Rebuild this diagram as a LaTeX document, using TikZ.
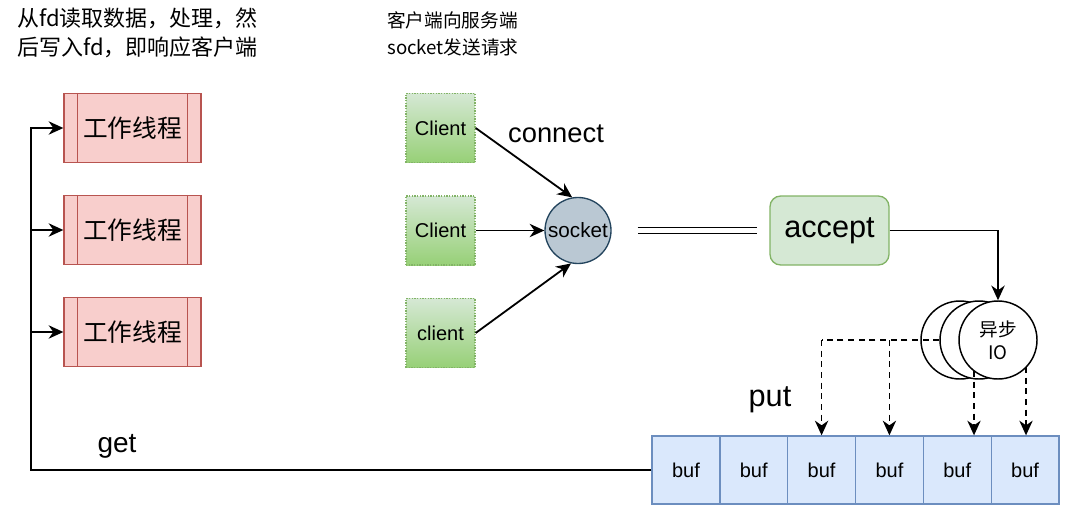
\documentclass[tikz,border=0pt]{standalone}
\usepackage{fontspec}
\setmainfont{Liberation Sans}
\newfontfamily\cjk{Noto Sans CJK SC}
\usetikzlibrary{arrows.meta,calc}
\definecolor{wfill}{HTML}{F8CECC}
\definecolor{wdraw}{HTML}{B85450}
\definecolor{gtop}{HTML}{D5E8D4}
\definecolor{gbot}{HTML}{97D077}
\definecolor{gdraw}{HTML}{82B366}
\definecolor{sfill}{HTML}{BAC8D3}
\definecolor{sdraw}{HTML}{23445D}
\definecolor{bfill}{HTML}{DAE8FC}
\definecolor{bdraw}{HTML}{6C8EBF}
\tikzset{
  tip/.style={-{Stealth[length=11pt,width=10pt,inset=3.5pt]}},
  conn/.style={line width=1.35pt},
  worker/.style={draw=wdraw,fill=wfill,line width=1pt,minimum width=137*0.75pt,minimum height=69*0.75pt,inner sep=0pt,font=\cjk\fontsize{18.5}{20}\selectfont},
  client/.style={draw=gdraw,top color=gtop,bottom color=gbot,dash pattern=on 1pt off 1pt,line width=1pt,minimum width=69*0.75pt,minimum height=69*0.75pt,inner sep=0pt,font=\fontsize{15}{18}\selectfont},
  sock/.style={circle,draw=sdraw,fill=sfill,line width=1pt,minimum size=66*0.75pt,inner sep=0pt,font=\fontsize{15.5}{18}\selectfont},
  acc/.style={draw=gdraw,fill=gtop,rounded corners=8pt,line width=1pt,minimum width=119*0.75pt,minimum height=69*0.75pt,inner sep=0pt,font=\fontsize{23}{26}\selectfont},
  io/.style={circle,draw=black,fill=white,line width=1.1pt,minimum size=78*0.75pt,inner sep=0pt},
  buf/.style={draw=bdraw,fill=bfill,line width=1pt,minimum width=67.83*0.75pt,minimum height=68*0.75pt,inner sep=0pt,font=\fontsize{15}{18}\selectfont},
  lbl/.style={inner sep=0pt},
  dsh/.style={line width=1.2pt,dash pattern=on 4.5pt off 3.5pt},
}
\begin{document}
\begin{tikzpicture}[x=0.75pt,y=-0.75pt]
\useasboundingbox (0,0) rectangle (1080,528);
% titles
\node[lbl,anchor=west,align=left,font=\cjk\fontsize{16.5}{21.75}\selectfont] (t1) at (17,32.5) {从fd读取数据，处理，然\\后写入fd，即响应客户端};
\node[lbl,anchor=west,align=left,font=\cjk\fontsize{14}{20.25}\selectfont] (t2) at (387,33.5) {客户端向服务端\\socket发送请求};
% workers
\foreach \i/\y in {1/128,2/230,3/332}{
  \node[worker] (w\i) at (132.5,\y) {工作线程};
  \draw[wdraw,line width=1pt] ($(w\i.north west)+(14,0)$) -- ($(w\i.south west)+(14,0)$);
  \draw[wdraw,line width=1pt] ($(w\i.north east)+(-14,0)$) -- ($(w\i.south east)+(-14,0)$);
}
% clients
\node[client] (c1) at (440.5,128) {Client};
\node[client] (c2) at (440.5,230.5) {Client};
\node[client] (c3) at (440.5,333) {client};
% socket
\node[sock] (s) at (578,230.5) {socket};
\draw[conn,tip] (c1.east) -- (s.100);
\draw[conn,tip] (c2.east) -- (s.west);
\draw[conn,tip] (c3.east) -- (s.258);
\node[lbl,font=\fontsize{20.5}{24}\selectfont] (lc) at (556,134) {connect};
% accept
\node[acc] (a) at (829.5,230.5) {accept};
\draw[line width=1pt,double distance=3.2pt] ($(s.east)+(26,0)$) -- ($(a.west)+(-12,0)$);
% async io
\node[io] (io1) at (960,340) {};
\node[io] (io2) at (979,340) {};
\node[io,align=center,font=\cjk\fontsize{14}{17}\selectfont] (io3) at (998,340) {异步\\IO};
\draw[conn,tip] (a.east) -| (io3.north);
% bufs
\foreach \i in {1,...,6}{
  \node[buf] (b\i) at ({652+33.915+67.83*(\i-1)},470) {buf};
}
% put arrows
\coordinate (pc) at (b3.north |- io2.west);
\draw[dsh] (io2.west) -- (pc);
\draw[dsh,tip] (pc) -- (b3.north);
\draw[dsh,tip] (b4.north |- io2.west) -- (b4.north);
\coordinate (p3) at (974,371);
\coordinate (p4) at (1026,367);
\draw[dsh,tip] (p3) -- (p3 |- b5.north);
\draw[dsh,tip] (p4) -- (p4 |- b6.north);
\node[lbl,font=\fontsize{23}{26}\selectfont] (lp) at (770,400) {put};
% get loop
\coordinate (L) at (31,128);
\draw[conn,tip] (b1.west) -| (L) -- (w1.west);
\draw[conn,tip] (L |- w2.west) -- (w2.west);
\draw[conn,tip] (L |- w3.west) -- (w3.west);
\node[lbl,font=\fontsize{21}{24}\selectfont] (lg) at (117,446) {get};
\end{tikzpicture}
\end{document}
